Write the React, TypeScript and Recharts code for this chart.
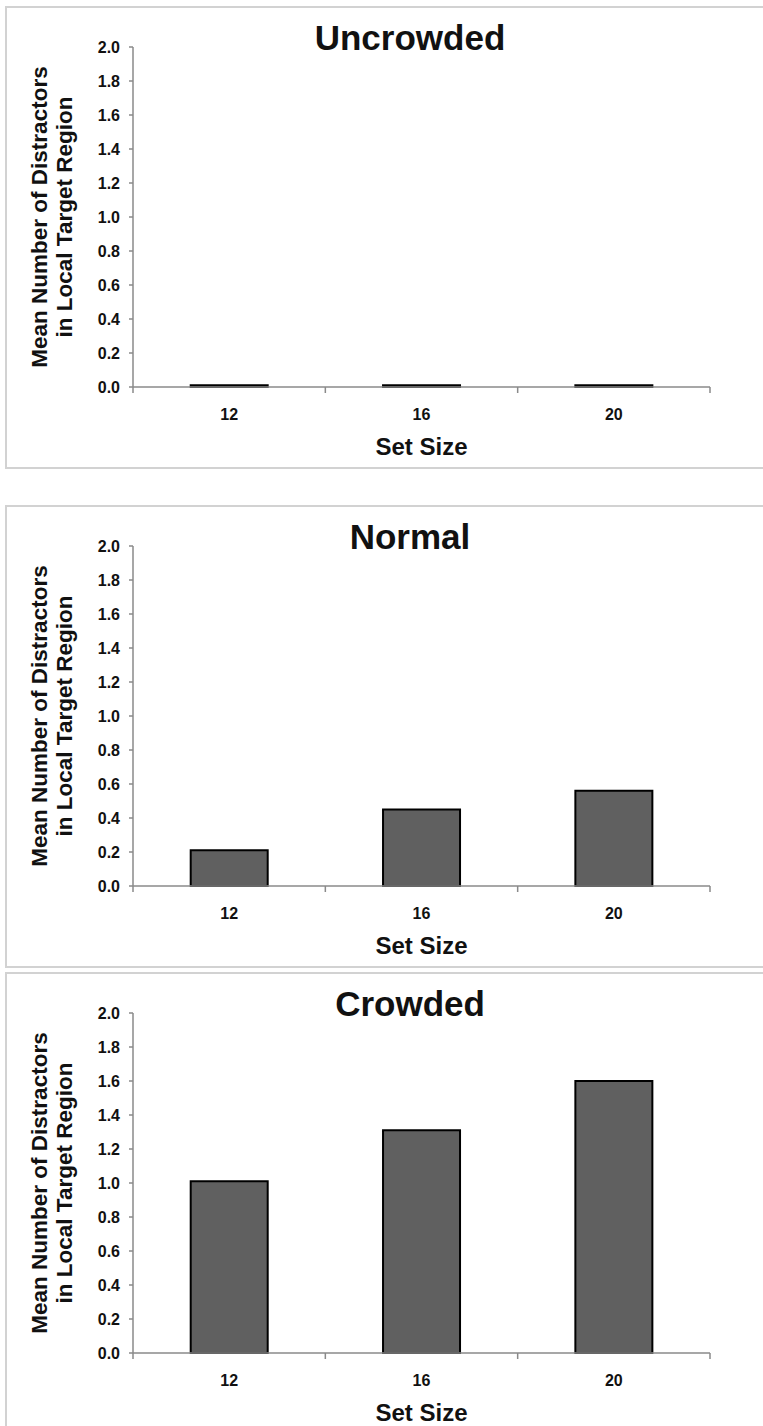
import { BarChart, Bar, XAxis, YAxis } from "recharts";

// ── Data ────────────────────────────────────────────────────────────────────

const setSizes = ["12", "16", "20"];
const uncrowdedValues = [0.01, 0.01, 0.01];
const normalValues = [0.21, 0.45, 0.56];
const crowdedValues = [1.01, 1.31, 1.6];
const yTicks = [0, 0.2, 0.4, 0.6, 0.8, 1.0, 1.2, 1.4, 1.6, 1.8, 2.0];

const panels = [
  { title: "Uncrowded", values: uncrowdedValues, top: 6 },
  { title: "Normal", values: normalValues, top: 505 },
  { title: "Crowded", values: crowdedValues, top: 972 },
];

// ── Layout ──────────────────────────────────────────────────────────────────

const FONT = '"Liberation Sans", Arial, sans-serif';
const CHART_W = 760;
const CHART_H = 459;
const MARGIN = { top: 39, right: 57, bottom: 50, left: 66 };
const Y_AXIS_W = 60;
const X_AXIS_H = 30;
const PLOT_W = CHART_W - MARGIN.left - Y_AXIS_W - MARGIN.right;
const AXIS_GRAY = "#8a8a8a";
const TICK_SIZE = 6;
const TICK_MARGIN = 2;

// category labels centred, tick marks on the category boundaries (Excel style)
function XTick(props: any) {
  const { x, y, payload, index } = props;
  const band = PLOT_W / setSizes.length;
  const axisY = y - TICK_SIZE - TICK_MARGIN;
  return (
    <g>
      <line x1={x - band / 2} x2={x - band / 2} y1={axisY} y2={axisY + 6} stroke={AXIS_GRAY} strokeWidth={1.5} />
      {index === setSizes.length - 1 && (
        <line x1={x + band / 2} x2={x + band / 2} y1={axisY} y2={axisY + 6} stroke={AXIS_GRAY} strokeWidth={1.5} />
      )}
      <text x={x} y={axisY + 33} textAnchor="middle" fontSize={16} fontWeight="bold" fontFamily={FONT} fill="#111">
        {payload.value}
      </text>
    </g>
  );
}

function YLabel(props: any) {
  const { y, height } = props.viewBox;
  const cx = 45;
  const cy = y + height / 2;
  return (
    <text
      transform={`translate(${cx},${cy}) rotate(-90)`}
      textAnchor="middle"
      fontSize={22.5}
      fontWeight="bold"
      fontFamily={FONT}
      fill="#111"
    >
      <tspan x={0} y={-5}>Mean Number of Distractors</tspan>
      <tspan x={0} y={20}>in Local Target Region</tspan>
    </text>
  );
}

function XLabel(props: any) {
  const { x, y, width } = props.viewBox;
  return (
    <text x={x + width / 2} y={y + 68} textAnchor="middle" fontSize={24} fontWeight="bold" fontFamily={FONT} fill="#111">
      Set Size
    </text>
  );
}

function Panel({ title, values, top }: { title: string; values: number[]; top: number }) {
  const data = setSizes.map((s, i) => ({ size: s, value: values[i] }));
  return (
    <div
      style={{
        position: "absolute",
        left: 5,
        top,
        width: 790,
        height: 459,
        border: "2px solid #d2d2d2",
        background: "#fff",
      }}
    >
      <div
        style={{
          position: "absolute",
          left: 203,
          top: 12,
          width: 400,
          textAlign: "center",
          fontFamily: FONT,
          fontWeight: "bold",
          fontSize: 35,
          lineHeight: "35px",
          color: "#111",
        }}
      >
        {title}
      </div>
      <div style={{ position: "absolute", left: 0, top: 0 }}>
        <BarChart width={CHART_W} height={CHART_H} data={data} margin={MARGIN} barCategoryGap="30%">
          <XAxis
            dataKey="size"
            height={X_AXIS_H}
            tickLine={false}
            tickSize={TICK_SIZE}
            tickMargin={TICK_MARGIN}
            axisLine={{ stroke: AXIS_GRAY, strokeWidth: 1.5 }}
            tick={<XTick />}
            interval={0}
            label={<XLabel />}
          />
          <YAxis
            width={Y_AXIS_W}
            domain={[0, 2]}
            ticks={yTicks}
            interval={0}
            tickFormatter={(v: number) => v.toFixed(1)}
            tickSize={4}
            tickMargin={9}
            tickLine={{ stroke: AXIS_GRAY, strokeWidth: 1.5 }}
            axisLine={{ stroke: AXIS_GRAY, strokeWidth: 1.5 }}
            tick={{ fontSize: 16, fontWeight: "bold", fontFamily: FONT, fill: "#111" }}
            label={<YLabel />}
          />
          <Bar dataKey="value" fill="#606060" stroke="#000" strokeWidth={2} isAnimationActive={false} />
        </BarChart>
      </div>
    </div>
  );
}

export default function App() {
  return (
    <div style={{ position: "fixed", left: 0, top: 0, width: 763, height: 1426, overflow: "hidden", background: "#fff" }}>
      {panels.map((p) => (
        <Panel key={p.title} title={p.title} values={p.values} top={p.top} />
      ))}
    </div>
  );
}
